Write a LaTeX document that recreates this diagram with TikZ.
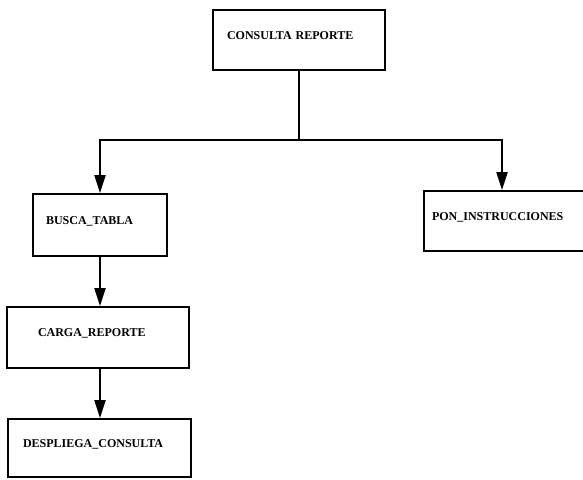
\documentclass[tikz,border=0pt]{standalone}
\usepackage{fontspec}
\setmainfont{Liberation Serif}
\usetikzlibrary{arrows.meta}
\tikzset{
  box/.style={draw, line width=1.8pt, rectangle, minimum height=60pt, align=left,
    text height=8pt, text depth=10pt, font=\bfseries\fontsize{12}{14}\selectfont},
  flecha/.style={line width=2pt, -{Triangle[length=18pt,width=11pt]}},
  linea/.style={line width=2pt}
}
\begin{document}
\begin{tikzpicture}[x=1pt,y=-1pt]
        \useasboundingbox (0,0) rectangle (583,479);
        \clip (0,0) rectangle (583,479);
        % modulo principal
        \node[box, text width=144pt, inner xsep=14pt] (consulta) at (299,40) {CONSULTA REPORTE};
        % rama izquierda
        \node[box, text width=108pt, inner xsep=13pt, minimum height=62pt] (busca) at (100,225) {BUSCA\_TABLA};
        \node[box, text width=120pt, inner xsep=31pt, minimum height=61pt] (carga) at (98,337.5) {CARGA\_REPORTE};
        \node[box, text width=153pt, inner xsep=15pt, minimum height=58pt] (despliega) at (99.5,448) {DESPLIEGA\_CONSULTA};
        % rama derecha
        \node[box, text width=160pt, inner xsep=8pt] (pon) at (512,221) {PON\_INSTRUCCIONES};
        % conectores
        \coordinate (nudo) at (299,140);
        \draw[linea] (consulta.south) -- (nudo);
        \draw[flecha] (nudo) -| (busca.north);
        \draw[flecha] (nudo) -| ([xshift=-10pt]pon.north);
        \draw[flecha] (busca.south) -- (busca.south |- carga.north);
        \draw[flecha] ([xshift=2pt]carga.south) -- ([xshift=2pt]carga.south |- despliega.north);
\end{tikzpicture}
\end{document}
